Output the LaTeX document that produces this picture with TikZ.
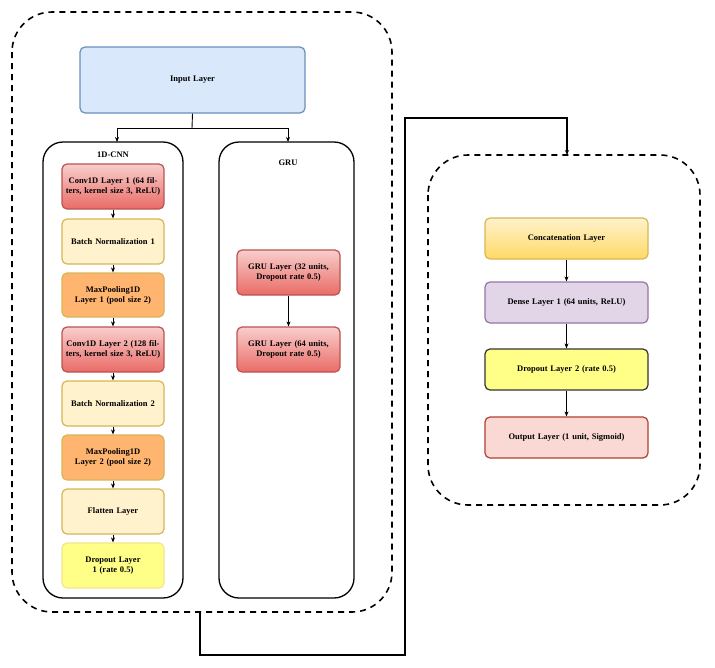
\documentclass[tikz,border=0pt]{standalone}
\usepackage{fontspec}
\setmainfont{Liberation Serif}
\usetikzlibrary{arrows.meta}
\definecolor{redb}{HTML}{B85450}
\definecolor{redt}{HTML}{F8CECC}
\definecolor{redm}{HTML}{EA6B66}
\definecolor{yelf}{HTML}{FFF2CC}
\definecolor{yelb}{HTML}{D6B656}
\definecolor{orgf}{HTML}{FFB570}
\definecolor{bluf}{HTML}{DAE8FC}
\definecolor{blub}{HTML}{6C8EBF}
\definecolor{dropf}{HTML}{FFFF88}
\definecolor{dropb}{HTML}{F0E68C}
\definecolor{concb}{HTML}{FFD966}
\definecolor{purf}{HTML}{E1D5E7}
\definecolor{purb}{HTML}{9673A6}
\definecolor{outf}{HTML}{FAD9D5}
\definecolor{outb}{HTML}{AE4132}
\newcommand\lbox[7]{%
  \pgfmathsetmacro\bw{#3-#1}\pgfmathsetmacro\bh{#4-#2}%
  \pgfmathsetmacro\tw{#3-#1-6}\pgfmathsetmacro\bx{(#1+#3)/2}\pgfmathsetmacro\by{(#2+#4)/2}%
  \node[#6,minimum width=\bw pt,minimum height=\bh pt,text width=\tw pt] (#5) at (\bx,\by) {#7};}
\begin{document}
\begin{tikzpicture}[x=1pt,y=-1pt,
  lay/.style={draw,line width=1.2pt,rounded corners=5pt,align=center,font=\bfseries\fontsize{8.5}{10}\selectfont,inner sep=1pt},
  conv/.style={lay,draw=redb,top color=redt,bottom color=redm},
  bn/.style={lay,draw=yelb,fill=yelf},
  mp/.style={lay,draw=yelb,fill=orgf},
  arr/.style={-{Stealth[length=5pt,width=4pt]},line width=0.9pt},
  dbox/.style={draw,line width=1.6pt,dash pattern=on 6pt off 5pt,rounded corners=40pt},
  sbox/.style={draw,line width=1.3pt,rounded corners=20pt}]
\useasboundingbox (0,0) rectangle (715,667);
\draw[dbox] (12,12) rectangle (392,612);
\draw[dbox] (428,155) rectangle (700,505);
\draw[sbox] (43,142) rectangle (183,598);
\draw[sbox] (219,142) rectangle (354,598);
\node[font=\bfseries\fontsize{8.5}{10}\selectfont] (tcnn) at (113,155) {1D-CNN};
\node[font=\bfseries\fontsize{8.5}{10}\selectfont] (tgru) at (288,163) {GRU};
\coordinate (cnntop) at (117,142);
\coordinate (grutop) at (288,142);
\lbox{80}{47}{305}{113}{in}{lay,draw=blub,fill=bluf}{Input Layer}
\lbox{62}{164}{164}{209}{c1}{conv}{Conv1D Layer 1 (64 filters, kernel size 3, ReLU)}
\lbox{62}{219}{164}{264}{b1}{bn}{Batch Normalization 1}
\lbox{62}{273}{164}{317}{m1}{mp}{MaxPooling1D Layer 1 (pool size 2)}
\lbox{62}{327}{164}{372}{c2}{conv}{Conv1D Layer 2 (128 filters, kernel size 3, ReLU)}
\lbox{62}{381}{164}{426}{b2}{bn}{Batch Normalization 2}
\lbox{62}{435}{164}{480}{m2}{mp}{MaxPooling1D Layer 2 (pool size 2)}
\lbox{62}{489}{164}{534}{fl}{bn}{Flatten Layer}
\lbox{62}{543}{164}{588}{d1}{lay,draw=dropb,fill=dropf}{Dropout Layer 1 (rate 0.5)}
\lbox{237}{250}{340}{295}{g1}{conv}{GRU Layer (32 units, Dropout rate 0.5)}
\lbox{237}{327}{340}{372}{g2}{conv}{GRU Layer (64 units, Dropout rate 0.5)}
\lbox{485}{218}{648}{259}{cc}{lay,draw=yelb,top color=yelf,bottom color=concb}{Concatenation Layer}
\lbox{485}{282}{648}{323}{de}{lay,draw=purb,fill=purf}{Dense Layer 1 (64 units, ReLU)}
\lbox{485}{349}{648}{390}{d2}{lay,draw=black!80,fill=dropf}{Dropout Layer 2 (rate 0.5)}
\lbox{485}{417}{648}{458}{ou}{lay,draw=outb,fill=outf}{Output Layer (1 unit, Sigmoid)}
\foreach \a/\b in {c1/b1,b1/m1,m1/c2,c2/b2,b2/m2,m2/fl,fl/d1,g1/g2,cc/de,de/d2,d2/ou}
  \draw[arr] (\a) -- (\b);
\coordinate (split) at (192,128);
\draw[line width=0.9pt] (in.south) -- (split);
\draw[arr] (split) -| (cnntop);
\draw[arr] (split) -| (grutop);
\coordinate (ls) at (200,612);
\coordinate (p1) at (200,655);
\coordinate (p2) at (405,655);
\coordinate (p3) at (405,118);
\coordinate (p4) at (567,118);
\coordinate (rt) at (567,155);
\draw[arr,line width=1.2pt] (ls) -- (p1) -- (p2) -- (p3) -- (p4) -- (rt);
\end{tikzpicture}
\end{document}
